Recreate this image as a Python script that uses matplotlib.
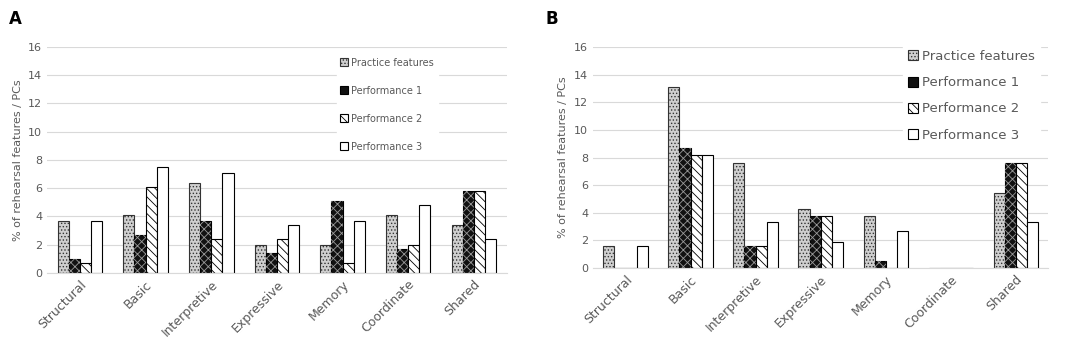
import numpy as np
import matplotlib.pyplot as plt

categories = ['Structural', 'Basic', 'Interpretive', 'Expressive', 'Memory', 'Coordinate', 'Shared']
series_names = ['Practice features', 'Performance 1', 'Performance 2', 'Performance 3']

# panel A
a_practice = [3.7, 4.1, 6.4, 2.0, 2.0, 4.1, 3.4]
a_perf1 = [1.0, 2.7, 3.7, 1.4, 5.1, 1.7, 5.8]
a_perf2 = [0.7, 6.1, 2.4, 2.4, 0.7, 2.0, 5.8]
a_perf3 = [3.7, 7.5, 7.1, 3.4, 3.7, 4.8, 2.4]

# panel B
b_practice = [1.6, 13.1, 7.6, 4.3, 3.8, 0, 5.4]
b_perf1 = [0, 8.7, 1.6, 3.8, 0.5, 0, 7.6]
b_perf2 = [0, 8.2, 1.6, 3.8, 0, 0, 7.6]
b_perf3 = [1.6, 8.2, 3.3, 1.9, 2.7, 0, 3.3]

styles = [
    dict(facecolor='#cfcfcf', hatch='.....', edgecolor='#333333'),
    dict(facecolor='#111111', hatch=None, edgecolor='#000000'),
    dict(facecolor='white', hatch='\\\\\\\\', edgecolor='#000000'),
    dict(facecolor='white', hatch=None, edgecolor='#000000'),
]

plt.rcParams['hatch.linewidth'] = 0.6
grey = '#595959'


def draw_panel(ax, data, legend_size, legend_anchor, spacing):
    x = np.arange(len(categories))
    w = 0.17
    for i, vals in enumerate(data):
        ax.bar(x + (i - 1.5) * w, vals, w, linewidth=0.8, label=series_names[i], **styles[i])
        if i == 1:
            # white speckle over the black bars
            ax.bar(x + (i - 1.5) * w, vals, w, facecolor='none', edgecolor='#9a9a9a',
                   hatch='xxxx', linewidth=0)
    ax.set_ylim(0, 16)
    ax.set_yticks(range(0, 17, 2))
    ax.set_xlim(-0.5, len(categories) - 0.5)
    ax.yaxis.grid(True, color='#d9d9d9', linewidth=0.8)
    ax.set_axisbelow(True)
    for s in ['top', 'right', 'left']:
        ax.spines[s].set_visible(False)
    ax.spines['bottom'].set_color('#d9d9d9')
    ax.tick_params(axis='both', length=0, colors=grey, labelsize=8)
    ax.set_xticks(x)
    ax.set_xticklabels(categories, rotation=45, ha='right', rotation_mode='anchor', fontsize=9)
    ax.set_ylabel('% of rehearsal features / PCs', color=grey, fontsize=8)
    leg = ax.legend(loc='upper left', bbox_to_anchor=legend_anchor, frameon=True,
                    fontsize=legend_size, handlelength=0.8, handleheight=0.8,
                    handletextpad=0.3, labelspacing=spacing,
                    borderaxespad=0, fancybox=False, edgecolor='white', framealpha=1)
    for t in leg.get_texts():
        t.set_color(grey)


fig = plt.figure(figsize=(10.84, 3.5), dpi=100)
axA = fig.add_axes([0.0434, 0.22, 0.424, 0.646])
axB = fig.add_axes([0.547, 0.234, 0.42, 0.632])

draw_panel(axA, [a_practice, a_perf1, a_perf2, a_perf3], 7, (0.63, 0.97), 1.85)
draw_panel(axB, [b_practice, b_perf1, b_perf2, b_perf3], 9.5, (0.68, 1.01), 1.0)

fig.text(0.008, 0.93, 'A', fontsize=12, fontweight='bold')
fig.text(0.503, 0.93, 'B', fontsize=12, fontweight='bold')

fig.savefig('out.png', dpi=100)
